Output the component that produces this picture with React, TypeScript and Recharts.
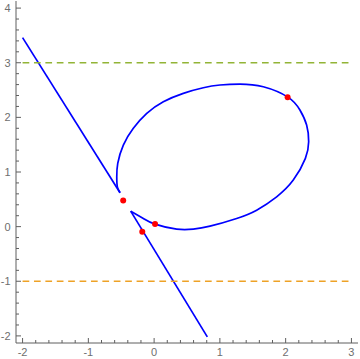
import { ComposedChart, Line, Scatter, XAxis, YAxis } from 'recharts';

// upper straight branch, the loop and the lower straight branch of the curve
const upperX = [-2.0, -0.518];
const upperY = [3.46, 0.619];

const loopX = [
  -0.518, -0.559, -0.568, -0.553, -0.468, -0.316, -0.112, 0.14, 0.444, 0.748, 1.002, 1.305, 1.66,
  2.04, 2.217, 2.319, 2.35, 2.3, 2.116, 1.863, 1.559, 1.255, 0.85, 0.596, 0.343, 0.014, -0.164,
  -0.356,
];
const loopY = [
  0.619, 0.729, 0.912, 1.158, 1.493, 1.799, 2.073, 2.286, 2.44, 2.542, 2.592, 2.61, 2.56, 2.366,
  2.134, 1.859, 1.553, 1.25, 0.852, 0.546, 0.302, 0.15, 0.009, -0.046, -0.046, 0.046, 0.15, 0.284,
];

const lowerX = [-0.356, 0.809];
const lowerY = [0.284, -2.018];

const pointX = [-0.47, 0.014, -0.18, 2.03];
const pointY = [0.48, 0.046, -0.093, 2.37];

const greenLineX = [-2, 3];
const greenLineY = [3, 3];
const orangeLineX = [-2, 3];
const orangeLineY = [-1, -1];

const xMajor = [-2, -1, 0, 1, 2, 3];
const yMajor = [-2, -1, 0, 1, 2, 3, 4];

const zip = (xs: number[], ys: number[]) => xs.map((x, i) => ({ x, y: ys[i] }));

const withMinor = (major: number[]) => {
  const out: number[] = [];
  for (let i = 0; i < major.length - 1; i++) {
    for (let k = 0; k < 5; k++) out.push(Math.round((major[i] + k * 0.2) * 10) / 10);
  }
  out.push(major[major.length - 1]);
  return out;
};

const xTicks = withMinor(xMajor);
const yTicks = withMinor(yMajor);

const FRAME = '#5f5f5f';
const TEXT = '#6e6e6e';
const FONT = 'Liberation Sans, Arial, sans-serif';
const MARGIN = 5;

const isMajor = (v: number) => Math.abs(v - Math.round(v)) < 1e-6;

function BottomTick(props: any) {
  const { x, y, payload } = props;
  const v = payload.value;
  const len = isMajor(v) ? 5 : 3;
  const y0 = y - MARGIN;
  return (
    <g>
      <line x1={x} x2={x} y1={y0} y2={y0 - len} stroke={FRAME} strokeWidth={1} />
      {isMajor(v) && (
        <text x={x} y={y} dy="0.72em" textAnchor="middle" fill={TEXT} fontSize={11} fontFamily={FONT}>
          {v}
        </text>
      )}
    </g>
  );
}

function TopTick(props: any) {
  const { x, y, payload } = props;
  const len = isMajor(payload.value) ? 5 : 3;
  return <line x1={x} x2={x} y1={y} y2={y + len} stroke={FRAME} strokeWidth={1} />;
}

function LeftTick(props: any) {
  const { x, y, payload } = props;
  const v = payload.value;
  const len = isMajor(v) ? 5 : 3;
  const x0 = x + MARGIN;
  return (
    <g>
      <line x1={x0} x2={x0 + len} y1={y} y2={y} stroke={FRAME} strokeWidth={1} />
      {isMajor(v) && (
        <text x={x - 0.5} y={y} dy="0.36em" textAnchor="end" fill={TEXT} fontSize={11} fontFamily={FONT}>
          {v}
        </text>
      )}
    </g>
  );
}

function RightTick(props: any) {
  const { x, y, payload } = props;
  const len = isMajor(payload.value) ? 5 : 3;
  return <line x1={x} x2={x - len} y1={y} y2={y} stroke={FRAME} strokeWidth={1} />;
}

const RedDot = (props: any) => <circle cx={props.cx} cy={props.cy} r={3} fill="#ff0000" />;

export default function App() {
  return (
    <div style={{ position: 'absolute', left: 0, top: 0, background: '#fff' }}>
      <ComposedChart width={360} height={359} margin={{ top: 1, right: 2, bottom: 0, left: 0 }}>
        <XAxis
          xAxisId="b"
          dataKey="x"
          type="number"
          domain={[-2.1, 3.1]}
          ticks={xTicks}
          interval={0}
          height={16}
          tickLine={false}
          tickSize={0}
          tickMargin={MARGIN}
          axisLine={{ stroke: FRAME }}
          tick={<BottomTick />}
        />
        <XAxis
          xAxisId="t"
          orientation="top"
          dataKey="x"
          type="number"
          domain={[-2.1, 3.1]}
          ticks={xTicks}
          interval={0}
          height={0}
          tickLine={false}
          tickSize={0}
          tickMargin={0}
          axisLine={{ stroke: FRAME }}
          tick={<TopTick />}
        />
        <YAxis
          yAxisId="l"
          dataKey="y"
          type="number"
          domain={[-2.13, 4.13]}
          ticks={yTicks}
          interval={0}
          width={16}
          tickLine={false}
          tickSize={0}
          tickMargin={MARGIN}
          axisLine={{ stroke: FRAME }}
          tick={<LeftTick />}
        />
        <YAxis
          yAxisId="r"
          orientation="right"
          dataKey="y"
          type="number"
          domain={[-2.13, 4.13]}
          ticks={yTicks}
          interval={0}
          width={0}
          tickLine={false}
          tickSize={0}
          tickMargin={0}
          axisLine={{ stroke: FRAME }}
          tick={<RightTick />}
        />
        <Line
          xAxisId="b"
          yAxisId="l"
          data={zip(upperX, upperY)}
          dataKey="y"
          type="linear"
          stroke="#0000ff"
          strokeWidth={1.7}
          dot={false}
          isAnimationActive={false}
        />
        <Line
          xAxisId="b"
          yAxisId="l"
          data={zip(loopX, loopY)}
          dataKey="y"
          type="natural"
          stroke="#0000ff"
          strokeWidth={1.7}
          dot={false}
          isAnimationActive={false}
        />
        <Line
          xAxisId="b"
          yAxisId="l"
          data={zip(lowerX, lowerY)}
          dataKey="y"
          type="linear"
          stroke="#0000ff"
          strokeWidth={1.7}
          dot={false}
          isAnimationActive={false}
        />
        <Line
          xAxisId="b"
          yAxisId="l"
          data={zip(greenLineX, greenLineY)}
          dataKey="y"
          type="linear"
          stroke="#92b436"
          strokeWidth={1.5}
          strokeDasharray="6.7 4.7"
          dot={false}
          isAnimationActive={false}
        />
        <Line
          xAxisId="b"
          yAxisId="l"
          data={zip(orangeLineX, orangeLineY)}
          dataKey="y"
          type="linear"
          stroke="#eea226"
          strokeWidth={1.5}
          strokeDasharray="6.7 4.7"
          dot={false}
          isAnimationActive={false}
        />
        <Scatter
          xAxisId="b"
          yAxisId="l"
          data={zip(pointX, pointY)}
          dataKey="y"
          shape={<RedDot />}
          isAnimationActive={false}
        />
      </ComposedChart>
    </div>
  );
}
